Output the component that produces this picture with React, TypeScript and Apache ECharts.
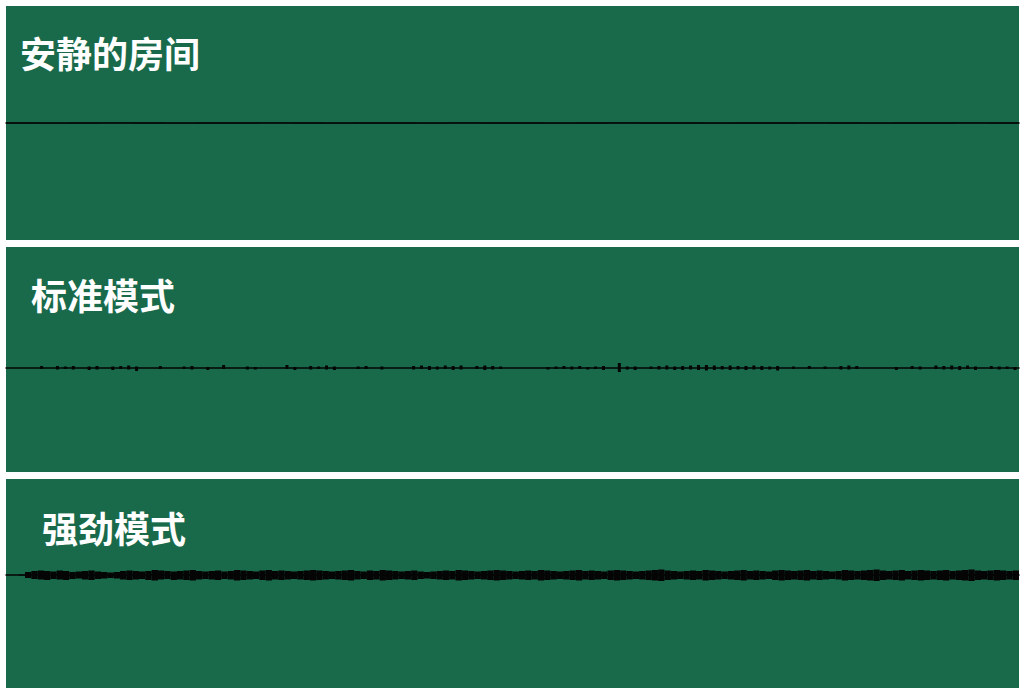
import React, { useEffect, useRef } from 'react';
import * as echarts from 'echarts';

// 面板标题
const panelTitles = ['安静的房间', '标准模式', '强劲模式'];

// 安静的房间：几乎没有振幅
const quietUpper = [0.4, 0.3, 0.4, 0.5, 0.4, 0.3, 0.4, 0.4, 0.5, 0.4, 0.3, 0.4, 0.4, 0.3, 0.5, 0.4,
    0.4, 0.3, 0.4, 0.5, 0.4, 0.4, 0.3, 0.4, 0.4, 0.5, 0.4, 0.3, 0.4, 0.4, 0.5, 0.4];
const quietLower = [-0.4, -0.5, -0.4, -0.3, -0.4, -0.5, -0.4, -0.4, -0.3, -0.4, -0.5, -0.4, -0.4, -0.5, -0.3, -0.4,
    -0.4, -0.5, -0.4, -0.3, -0.4, -0.4, -0.5, -0.4, -0.4, -0.3, -0.4, -0.5, -0.4, -0.4, -0.3, -0.4];

// 标准模式：零星的小尖峰
const standardUpper = [
    0, 0, 0, 0, 2, 0, 2, 1.5, 2, 0, 1.5, 2, 0, 1.5, 2, 2.5,
    1.5, 0, 0, 2, 0, 0, 1.5, 2, 0, 1, 0, 3, 0, 0, 1.5, 1,
    0, 0, 0, 3, 1, 0, 2, 1.5, 2.5, 1.5, 0, 0, 1.5, 2, 0, 1.5,
    0, 0, 0, 2, 2.5, 2, 1.5, 2.5, 2, 2.5, 0, 2, 2.5, 2, 1.5, 0,
    0, 0, 0, 0, 1, 1.5, 2, 1.5, 2, 1, 1.5, 2, 0, 5, 1.5, 1.5,
    0, 1.5, 2, 2.5, 1.5, 2, 2.5, 3, 3, 2.5, 2, 2.5, 2, 2, 2.5, 2,
    1.5, 2, 0, 1.5, 0, 2, 0, 1.5, 0, 2, 2.5, 2, 0, 0, 0, 0,
    1, 0, 2, 1.5, 0, 2.5, 2, 2.5, 2, 2.5, 1.5, 0, 2, 1.5, 1.5, 1,
];
const standardLower = [
    0, 0, 0, 0, -1, 0, -1.5, -1, -1.5, 0, -2, -1.5, 0, -2, -1, -1.5,
    -3, 0, 0, -1, 0, 0, -1, -1.5, 0, -2, 0, -1, 0, 0, -1.5, -1.5,
    0, 0, 0, -1, -2, 0, -1.5, -1, -1.5, -2, 0, 0, -1, -1, 0, -1.5,
    0, 0, 0, -1.5, -1, -2, -1.5, -1, -2, -1.5, 0, -1, -2, -1.5, -1, 0,
    0, 0, 0, 0, -1.5, -1, -1, -1.5, -1, -1.5, -1, -2, 0, -4, -1.5, -2,
    0, -1, -1.5, -1.5, -2, -2, -1.5, -2, -2.5, -2, -1.5, -2, -1.5, -2, -1.5, -2,
    -1.5, -2.5, 0, -1, 0, -1, 0, -1, 0, -1.5, -1.5, -1, 0, 0, 0, 0,
    -2, 0, -1, -1.5, 0, -1, -1.5, -1.5, -2, -1, -2, 0, -1, -1.5, -1, -2,
];

// 强劲模式：连续的粗波形
const strongUpper = [
    0, 0, 0.5, 3, 4, 4.5, 4, 3.5, 4.5, 4, 3, 3.5, 4, 4.5, 3.5, 3,
    2.5, 3, 4, 4.5, 4, 3.5, 4, 5, 4.5, 4, 3.5, 4, 4.5, 5, 4, 3.5,
    4, 4.5, 3.5, 4, 5, 4.5, 4, 3.5, 4.5, 5, 4, 4.5, 4, 3.5, 4, 4.5,
    5, 4.5, 4, 3.5, 4, 4.5, 5, 4, 3.5, 4.5, 4, 5, 4.5, 4, 3.5, 4,
    4.5, 3.5, 3, 3.5, 4, 4.5, 4, 5, 4.5, 4, 3.5, 4, 4.5, 5, 4.5, 4,
    3.5, 4, 4.5, 4, 5, 4.5, 4, 3.5, 4, 4.5, 5, 4, 4.5, 4, 3.5, 4.5,
    5, 4.5, 4, 3.5, 4, 4.5, 5, 5.5, 4.5, 4, 3.5, 4, 4.5, 4, 5, 4.5,
    4, 3.5, 4, 4.5, 5, 4, 4.5, 4, 3.5, 4.5, 5, 4.5, 4, 4.5, 5, 4,
    4.5, 4, 3.5, 4, 5, 4.5, 4, 4.5, 5, 5.5, 4.5, 4, 4.5, 5, 4, 4.5,
    5, 4.5, 4, 4.5, 5, 4, 4.5, 5, 5.5, 4.5, 4, 4.5, 5, 4.5, 4, 4.5,
];
const strongLower = [
    0, 0, -0.5, -3, -4, -4.5, -5, -4, -4.5, -5, -4, -3.5, -4.5, -5, -4, -3.5,
    -3, -3.5, -4.5, -5, -4.5, -4, -5, -5.5, -4.5, -4, -5, -4.5, -5, -5.5, -4.5, -4,
    -4.5, -5, -4, -4.5, -5.5, -5, -4.5, -4, -5, -5.5, -4.5, -5, -4.5, -4, -4.5, -5,
    -5.5, -5, -4.5, -4, -4.5, -5, -5.5, -4.5, -4, -5, -4.5, -5.5, -5, -4.5, -4, -4.5,
    -5, -4, -3.5, -4, -4.5, -5, -4.5, -5.5, -5, -4.5, -4, -4.5, -5, -5.5, -5, -4.5,
    -4, -4.5, -5, -4.5, -5.5, -5, -4.5, -4, -4.5, -5, -5.5, -4.5, -5, -4.5, -4, -5,
    -5.5, -5, -4.5, -4, -4.5, -5, -5.5, -6, -5, -4.5, -4, -4.5, -5, -4.5, -5.5, -5,
    -4.5, -4, -4.5, -5, -5.5, -4.5, -5, -4.5, -4, -5, -5.5, -5, -4.5, -5, -5.5, -4.5,
    -5, -4.5, -4, -4.5, -5.5, -5, -4.5, -5, -5.5, -6, -5, -4.5, -5, -5.5, -4.5, -5,
    -5.5, -5, -4.5, -5, -5.5, -4.5, -5, -5.5, -6, -5, -4.5, -5, -5.5, -5, -4.5, -5,
];

const panelBg = '#196a4b';
const waveColor = '#050505';

const App: React.FC = () => {
    const chartRef = useRef<HTMLDivElement>(null);

    useEffect(() => {
        if (!chartRef.current) return;
        const chart = echarts.init(chartRef.current, undefined, { renderer: 'svg' });

        const panels = [
            { top: 6, height: 234, yMin: -117, yMax: 117, upper: quietUpper, lower: quietLower, titleTop: 34, titleLeft: 20, barWidth: undefined as number | undefined },
            { top: 247, height: 225, yMin: -104, yMax: 121, upper: standardUpper, lower: standardLower, titleTop: 276, titleLeft: 31, barWidth: 3 },
            { top: 479, height: 209, yMin: -113, yMax: 96, upper: strongUpper, lower: strongLower, titleTop: 509, titleLeft: 42, barWidth: undefined },
        ];

        const option = {
            animation: false,
            title: panels.map((p, i) => ({
                text: panelTitles[i],
                left: p.titleLeft,
                top: p.titleTop,
                padding: 0,
                textStyle: {
                    color: '#ffffff',
                    fontSize: 36,
                    fontWeight: 'bold',
                    fontFamily: '"Noto Sans CJK SC", sans-serif',
                },
            })),
            grid: panels.map((p) => ({
                left: 6,
                top: p.top,
                width: 1013,
                height: p.height,
                show: true,
                backgroundColor: panelBg,
                borderWidth: 0,
            })),
            xAxis: panels.map((p, i) => ({
                type: 'category',
                gridIndex: i,
                data: p.upper.map((_, k) => k),
                axisLine: { show: true, onZero: true, lineStyle: { color: waveColor, width: 1.5 } },
                axisTick: { show: false },
                axisLabel: { show: false },
                splitLine: { show: false },
            })),
            yAxis: panels.map((p, i) => ({
                type: 'value',
                gridIndex: i,
                min: p.yMin,
                max: p.yMax,
                show: false,
                splitLine: { show: false },
            })),
            series: panels.flatMap((p, i) => [
                {
                    type: 'bar',
                    xAxisIndex: i,
                    yAxisIndex: i,
                    data: p.upper,
                    barWidth: p.barWidth,
                    barCategoryGap: '0%',
                    barGap: '-100%',
                    itemStyle: { color: waveColor },
                    silent: true,
                },
                {
                    type: 'bar',
                    xAxisIndex: i,
                    yAxisIndex: i,
                    data: p.lower,
                    barWidth: p.barWidth,
                    barCategoryGap: '0%',
                    barGap: '-100%',
                    itemStyle: { color: waveColor },
                    silent: true,
                },
            ]),
        };

        chart.setOption(option);

        return () => {
            chart.dispose();
        };
    }, []);

    return (
        <div
            ref={chartRef}
            style={{ position: 'absolute', left: 0, top: 0, width: '1025px', height: '695px', background: '#ffffff' }}
        />
    );
};

export default App;
